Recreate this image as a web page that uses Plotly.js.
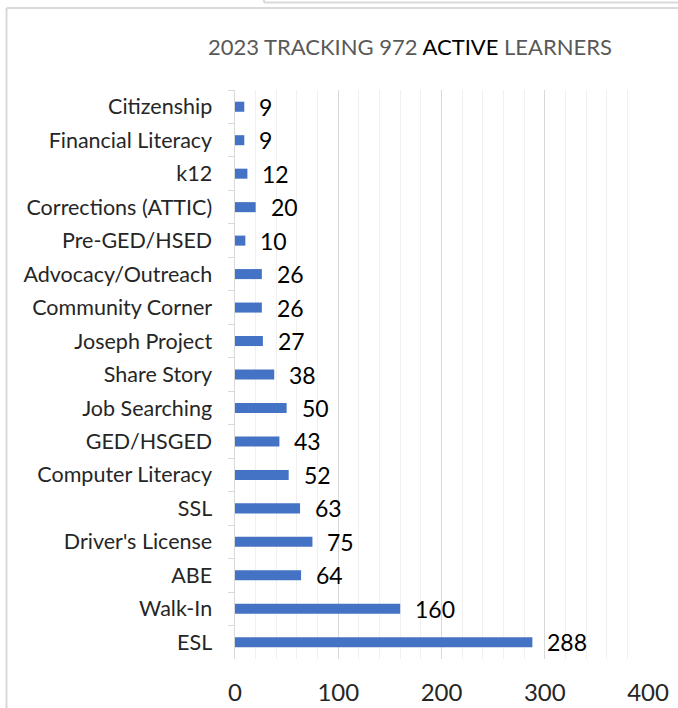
<!DOCTYPE html>
<html>
<head>
<meta charset="utf-8">
<script src="https://cdn.plot.ly/plotly-3.0.1.min.js"></script>
<style>
  body { margin: 0; background: #fff; }
  #plot { width: 678px; height: 708px; }
</style>
</head>
<body>
<div id="plot"></div>
<script>
// top to bottom, as in the chart
let programs = [
    'Citizenship', 'Financial Literacy', 'k12', 'Corrections (ATTIC)', 'Pre-GED/HSED',
    'Advocacy/Outreach', 'Community Corner', 'Joseph Project', 'Share Story',
    'Job Searching', 'GED/HSGED', 'Computer Literacy', 'SSL', "Driver's License",
    'ABE', 'Walk-In', 'ESL'
];
let learners = [9, 9, 12, 20, 10, 26, 26, 27, 38, 50, 43, 52, 63, 75, 64, 160, 288];
let xTicks = [0, 100, 200, 300, 400];

let font = 'Lato, "Open Sans", sans-serif';

let trace = {
    type: 'bar',
    orientation: 'h',
    x: learners,
    y: programs,
    width: 0.3,
    marker: { color: '#4472C4' },
    hoverinfo: 'none'
};

let labels = programs.map((p, i) => ({
    x: learners[i],
    y: p,
    xref: 'x',
    yref: 'y',
    text: String(learners[i]),
    showarrow: false,
    xanchor: 'left',
    xshift: 13,
    yshift: 0,
    font: { family: font, size: 23, color: '#000' }
}));

// paper coords for the Excel chart frame
let pxX = (px) => (px - 235) / 413;
let pxY = (py) => (659 - py) / 569;

let frameLine = { color: '#d9d9d9', width: 2 };
let shapes = [
    { type: 'line', xref: 'paper', yref: 'paper', x0: pxX(6.5), x1: pxX(6.5), y0: pxY(8), y1: pxY(720), line: frameLine },
    { type: 'line', xref: 'paper', yref: 'paper', x0: pxX(6.5), x1: pxX(690), y0: pxY(8), y1: pxY(8), line: frameLine },
    { type: 'line', xref: 'paper', yref: 'paper', x0: pxX(264), x1: pxX(690), y0: pxY(2.5), y1: pxY(2.5), line: frameLine },
    { type: 'line', xref: 'paper', yref: 'paper', x0: pxX(264), x1: pxX(264), y0: pxY(2.5), y1: pxY(-5), line: frameLine }
];

let layout = {
    width: 678,
    height: 708,
    margin: { l: 235, r: 30, t: 90, b: 49 },
    paper_bgcolor: '#fff',
    plot_bgcolor: '#fff',
    showlegend: false,
    font: { family: font, color: '#262626' },
    title: {
        text: '2023 TRACKING 972 <span style="color:#000">ACTIVE</span> LEARNERS',
        font: { family: font, size: 22, color: '#595959' },
        x: pxX(410),
        xref: 'paper',
        xanchor: 'center',
        y: 1 - 47 / 708,
        yref: 'container',
        yanchor: 'middle'
    },
    xaxis: {
        range: [0, 400],
        tickvals: xTicks,
        ticktext: xTicks.map(String),
        showgrid: true,
        gridcolor: '#d9d9d9',
        gridwidth: 1,
        minor: { dtick: 20, showgrid: true, gridcolor: '#f0f0f0', gridwidth: 1 },
        zeroline: false,
        showline: false,
        ticks: '',
        ticklabelstandoff: 17,
        tickfont: { family: font, size: 24, color: '#262626' },
        fixedrange: true
    },
    yaxis: {
        type: 'category',
        autorange: 'reversed',
        showgrid: false,
        showline: true,
        linecolor: '#d9d9d9',
        linewidth: 1.5,
        ticks: 'outside',
        tickson: 'boundaries',
        ticklen: 6,
        tickcolor: '#d9d9d9',
        ticklabelstandoff: 17,
        tickfont: { family: font, size: 21.5, color: '#262626' },
        fixedrange: true
    },
    annotations: labels,
    shapes: shapes
};

Plotly.newPlot('plot', [trace], layout, { displayModeBar: false, staticPlot: true });
</script>
</body>
</html>
